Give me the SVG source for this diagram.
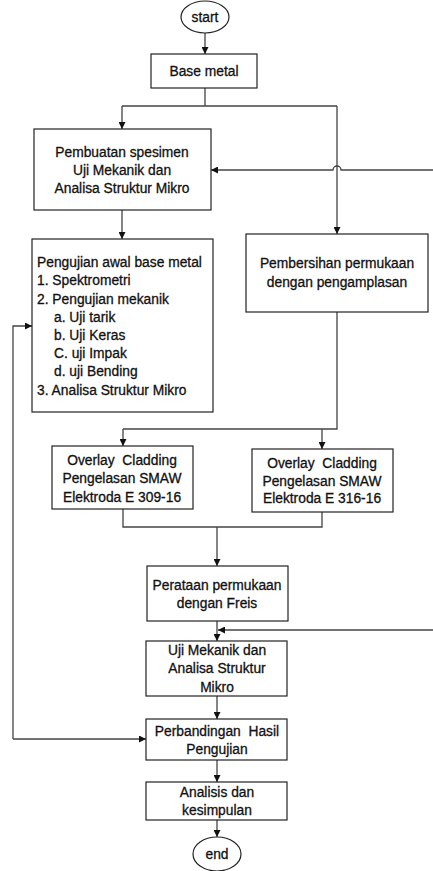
<svg xmlns="http://www.w3.org/2000/svg" width="433" height="871" viewBox="0 0 433 871">
<defs>
<marker id="arr" viewBox="0 0 10 10" refX="10" refY="5" markerWidth="7" markerHeight="7" markerUnits="userSpaceOnUse" orient="auto">
<path d="M0,0 L10,5 L0,10 z" fill="#111"/>
</marker>
<style>
.box{fill:#fff;stroke:#222;stroke-width:1.2}
.t{font-family:"Liberation Sans",Arial,sans-serif;font-size:13.8px;fill:#111;stroke:#111;stroke-width:0.3px;text-anchor:middle;white-space:pre}
.l{text-anchor:start}
.c{fill:none;stroke:#444;stroke-width:1.3}
.a{marker-end:url(#arr)}
</style>
</defs>
<rect width="433" height="871" fill="#fff"/>
<g id="connectors">
<path class="c a" d="M205,33 V54"/>
<path class="c" d="M205,88 V106 M122,106 H337"/>
<path class="c a" d="M122,106 V129"/>
<path class="c a" d="M337,106 V234"/>
<path class="c a" d="M433,170 H341 A4,4 0 0 0 333,170 H211"/>
<path class="c a" d="M122,210 V239"/>
<path class="c" d="M337,312 V429 H123"/>
<path class="c a" d="M123,429 V446"/>
<path class="c a" d="M322,429 V449"/>
<path class="c" d="M123,509 V527 H322 V512"/>
<path class="c a" d="M217,527 V566"/>
<path class="c a" d="M217,621 V641"/>
<path class="c a" d="M433,630 H218"/>
<path class="c a" d="M217,696 V719"/>
<path class="c a" d="M13,739 V326 H32"/>
<path class="c a" d="M13,739 H146"/>
<path class="c a" d="M217,760 V782"/>
<path class="c a" d="M217,820 V837"/>
</g>
<g id="start">
<ellipse class="box" cx="205" cy="17" rx="24" ry="16"/>
<text class="t" x="205" y="22">start</text>
</g>
<g id="base-metal">
<rect class="box" x="151" y="54" width="106" height="34"/>
<text class="t" x="204" y="76">Base metal</text>
</g>
<g id="pembuatan">
<rect class="box" x="34" y="129" width="177" height="81"/>
<text class="t" x="122" y="157">Pembuatan spesimen</text>
<text class="t" x="122" y="175">Uji Mekanik dan</text>
<text class="t" x="122" y="193">Analisa Struktur Mikro</text>
</g>
<g id="pengujian-awal">
<rect class="box" x="32" y="239" width="181" height="173"/>
<text class="t l" x="37" y="267">Pengujian awal base metal</text>
<text class="t l" x="37" y="285">1. Spektrometri</text>
<text class="t l" x="37" y="304">2. Pengujian mekanik</text>
<text class="t l" x="54" y="322">a. Uji tarik</text>
<text class="t l" x="54" y="340">b. Uji Keras</text>
<text class="t l" x="54" y="358">C. uji Impak</text>
<text class="t l" x="54" y="376">d. uji Bending</text>
<text class="t l" x="37" y="395">3. Analisa Struktur Mikro</text>
</g>
<g id="pembersihan">
<rect class="box" x="246" y="234" width="182" height="78"/>
<text class="t" x="337" y="268">Pembersihan permukaan</text>
<text class="t" x="337" y="287">dengan pengamplasan</text>
</g>
<g id="overlay-309">
<rect class="box" x="52" y="446" width="141" height="63"/>
<text class="t" x="122" y="465" xml:space="preserve">Overlay  Cladding</text>
<text class="t" x="122" y="483">Pengelasan SMAW</text>
<text class="t" x="122" y="502">Elektroda E 309-16</text>
</g>
<g id="overlay-316">
<rect class="box" x="252" y="449" width="141" height="63"/>
<text class="t" x="322" y="468" xml:space="preserve">Overlay  Cladding</text>
<text class="t" x="322" y="486">Pengelasan SMAW</text>
<text class="t" x="322" y="503">Elektroda E 316-16</text>
</g>
<g id="perataan">
<rect class="box" x="147" y="566" width="141" height="55"/>
<text class="t" x="217" y="590">Perataan permukaan</text>
<text class="t" x="217" y="608">dengan Freis</text>
</g>
<g id="uji-mekanik">
<rect class="box" x="146" y="641" width="141" height="55"/>
<text class="t" x="217" y="655">Uji Mekanik dan</text>
<text class="t" x="217" y="673">Analisa Struktur</text>
<text class="t" x="217" y="692">Mikro</text>
</g>
<g id="perbandingan">
<rect class="box" x="146" y="719" width="141" height="41"/>
<text class="t" x="217" y="736" xml:space="preserve">Perbandingan  Hasil</text>
<text class="t" x="217" y="754">Pengujian</text>
</g>
<g id="analisis">
<rect class="box" x="146" y="782" width="141" height="38"/>
<text class="t" x="217" y="797">Analisis dan</text>
<text class="t" x="217" y="815">kesimpulan</text>
</g>
<g id="end">
<ellipse class="box" cx="217" cy="854" rx="24" ry="17"/>
<text class="t" x="217" y="859">end</text>
</g>
</svg>
